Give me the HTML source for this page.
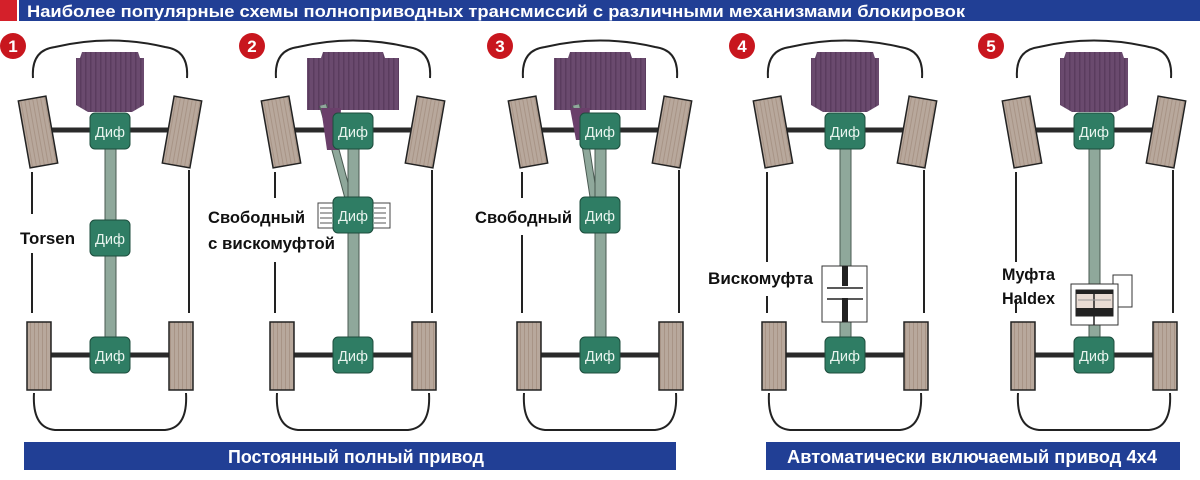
<!DOCTYPE html>
<html><head><meta charset="utf-8"><style>
html,body{margin:0;padding:0;background:#fff;width:1200px;height:480px;overflow:hidden}
svg{display:block}
text{font-family:"Liberation Sans Narrow","Liberation Sans",sans-serif;font-weight:bold}
</style></head><body>
<svg width="1200" height="480" viewBox="0 0 1200 480" xmlns="http://www.w3.org/2000/svg">
<defs>
<pattern id="wp" width="4" height="10" patternUnits="userSpaceOnUse"><rect width="4" height="10" fill="#b8a89c"/><rect width="1" height="10" fill="#a89486"/></pattern>
<pattern id="ep" width="5" height="10" patternUnits="userSpaceOnUse"><rect width="5" height="10" fill="#6a4a6e"/><rect width="1.5" height="10" fill="#5a3c5e"/></pattern>
<g id="body">
<path d="M-77,78 Q-79,50 -55,47 Q0,34 55,47 Q79,50 77,78" fill="none" stroke="#222" stroke-width="2"/>
<line x1="79" y1="170" x2="79" y2="313" stroke="#222" stroke-width="2"/>
<path d="M-76,393 Q-78,428 -55,430 L55,430 Q78,428 76,393" fill="none" stroke="#222" stroke-width="2"/>
<line x1="-62" y1="130" x2="62" y2="130" stroke="#2a2a2a" stroke-width="5"/>
<line x1="-62" y1="355" x2="62" y2="355" stroke="#2a2a2a" stroke-width="5"/>
<rect x="-14" y="-34" width="28" height="68" fill="url(#wp)" stroke="#222" stroke-width="1.5" transform="translate(-72,132) rotate(-10)"/>
<rect x="-14" y="-34" width="28" height="68" fill="url(#wp)" stroke="#222" stroke-width="1.5" transform="translate(72,132) rotate(10)"/>
<rect x="-83" y="322" width="24" height="68" fill="url(#wp)" stroke="#222" stroke-width="1.5"/>
<rect x="59" y="322" width="24" height="68" fill="url(#wp)" stroke="#222" stroke-width="1.5"/>
</g>
<g id="diff"><rect x="-20" y="-18" width="40" height="36" rx="5" fill="#2f7d64" stroke="#1d4d3d" stroke-width="1"/><text x="0" y="6" font-size="15" fill="#e8f4ee" text-anchor="middle" textLength="30" lengthAdjust="spacingAndGlyphs" style="font-weight:normal">Диф</text></g>
<g id="eng"><path d="M-28,52 L28,52 L30,58 L34,58 L34,105 L22,112 L-22,112 L-34,105 L-34,58 L-30,58 Z" fill="url(#ep)"/></g>
<g id="engW"><path d="M-30,52 L30,52 L32,58 L46,58 L46,110 L-46,110 L-46,58 L-32,58 Z" fill="url(#ep)"/></g>
</defs>

<rect x="0" y="0" width="17" height="21" fill="#d4202a"/>
<rect x="19" y="0" width="1181" height="21" fill="#213f95"/>
<text x="27" y="17" font-size="17" fill="#fff" textLength="938" lengthAdjust="spacingAndGlyphs">Наиболее популярные схемы полноприводных трансмиссий с различными механизмами блокировок</text>

<g font-size="17" fill="#fff" text-anchor="middle">
<circle cx="13" cy="46" r="13" fill="#c8161e"/><text x="13" y="52">1</text>
<circle cx="252" cy="46" r="13" fill="#c8161e"/><text x="252" y="52">2</text>
<circle cx="500" cy="46" r="13" fill="#c8161e"/><text x="500" y="52">3</text>
<circle cx="742" cy="46" r="13" fill="#c8161e"/><text x="742" y="52">4</text>
<circle cx="991" cy="46" r="13" fill="#c8161e"/><text x="991" y="52">5</text>
</g>

<g transform="translate(110,0)">
<use href="#body"/>
<line x1="-78" y1="172" x2="-78" y2="214" stroke="#222" stroke-width="2"/>
<line x1="-78" y1="253" x2="-78" y2="313" stroke="#222" stroke-width="2"/>
<use href="#eng"/>
<rect x="-5" y="148" width="11" height="190" fill="#8fa89b" stroke="#4a5a52"/>
<use href="#diff" transform="translate(0,131)"/>
<use href="#diff" transform="translate(0,238)"/>
<use href="#diff" transform="translate(0,355)"/>
</g>
<text x="20" y="244" font-size="17" fill="#111" textLength="55" lengthAdjust="spacingAndGlyphs">Torsen</text>

<g transform="translate(353,0)">
<use href="#body"/>
<line x1="-78" y1="172" x2="-78" y2="198" stroke="#222" stroke-width="2"/>
<line x1="-78" y1="262" x2="-78" y2="313" stroke="#222" stroke-width="2"/>
<use href="#engW"/>
<path d="M-30,105 L-18,148 L-4,200" fill="none" stroke="#4a5a52" stroke-width="8"/>
<path d="M-30,105 L-18,148 L-4,200" fill="none" stroke="#8fa89b" stroke-width="6"/>
<path d="M-32,108 L-12,108 L-14,150 L-26,150 Z" fill="#6a3f6a"/>
<rect x="-5" y="148" width="11" height="190" fill="#8fa89b" stroke="#4a5a52"/>
<use href="#diff" transform="translate(0,131)"/>
<rect x="-35" y="203" width="18" height="25" fill="#fff" stroke="#444"/>
<rect x="19" y="203" width="18" height="25" fill="#fff" stroke="#444"/>
<path d="M-33,208 h12 M-33,213 h12 M-33,218 h12 M-33,223 h12 M21,208 h12 M21,213 h12 M21,218 h12 M21,223 h12" stroke="#555" stroke-width="1"/>
<use href="#diff" transform="translate(0,215)"/>
<use href="#diff" transform="translate(0,355)"/>
</g>
<text x="208" y="223" font-size="17" fill="#111" textLength="97" lengthAdjust="spacingAndGlyphs">Свободный</text>
<text x="208" y="249" font-size="17" fill="#111" textLength="127" lengthAdjust="spacingAndGlyphs">с вискомуфтой</text>

<g transform="translate(600,0)">
<use href="#body"/>
<line x1="-78" y1="172" x2="-78" y2="198" stroke="#222" stroke-width="2"/>
<line x1="-78" y1="235" x2="-78" y2="313" stroke="#222" stroke-width="2"/>
<use href="#engW"/>
<path d="M-24,105 L-14,148 L-6,200" fill="none" stroke="#4a5a52" stroke-width="8"/>
<path d="M-24,105 L-14,148 L-6,200" fill="none" stroke="#8fa89b" stroke-width="6"/>
<path d="M-30,108 L-10,108 L-12,140 L-24,140 Z" fill="#6a3f6a"/>
<rect x="-5" y="148" width="11" height="190" fill="#8fa89b" stroke="#4a5a52"/>
<use href="#diff" transform="translate(0,131)"/>
<use href="#diff" transform="translate(0,215)"/>
<use href="#diff" transform="translate(0,355)"/>
</g>
<text x="475" y="223" font-size="17" fill="#111" textLength="97" lengthAdjust="spacingAndGlyphs">Свободный</text>

<g transform="translate(845,0)">
<use href="#body"/>
<line x1="-78" y1="172" x2="-78" y2="262" stroke="#222" stroke-width="2"/>
<line x1="-78" y1="296" x2="-78" y2="313" stroke="#222" stroke-width="2"/>
<use href="#eng"/>
<rect x="-5" y="148" width="11" height="190" fill="#8fa89b" stroke="#4a5a52"/>
<rect x="-23" y="266" width="45" height="56" fill="#fff" stroke="#333"/>
<rect x="-3" y="266" width="6" height="56" fill="#222"/>
<rect x="-18" y="286" width="36" height="12" fill="#fff"/>
<line x1="-18" y1="288" x2="18" y2="288" stroke="#222" stroke-width="1.5"/>
<line x1="-18" y1="299" x2="18" y2="299" stroke="#222" stroke-width="1.5"/>
<use href="#diff" transform="translate(0,131)"/>
<use href="#diff" transform="translate(0,355)"/>
</g>
<text x="708" y="284" font-size="17" fill="#111" textLength="105" lengthAdjust="spacingAndGlyphs">Вискомуфта</text>

<g transform="translate(1094,0)">
<use href="#body"/>
<line x1="-78" y1="172" x2="-78" y2="262" stroke="#222" stroke-width="2"/>
<line x1="-78" y1="300" x2="-78" y2="313" stroke="#222" stroke-width="2"/>
<use href="#eng"/>
<rect x="-5" y="148" width="11" height="190" fill="#8fa89b" stroke="#4a5a52"/>
<rect x="19" y="275" width="19" height="32" fill="#fff" stroke="#333"/>
<rect x="-23" y="284" width="47" height="41" fill="#fff" stroke="#333"/>
<rect x="-18" y="290" width="37" height="26" fill="#e9dcd4" stroke="#222"/>
<rect x="-18" y="308" width="37" height="8" fill="#222"/>
<rect x="-18" y="290" width="37" height="4" fill="#222"/>
<line x1="0" y1="294" x2="0" y2="325" stroke="#222" stroke-width="1.5"/>
<line x1="-16" y1="300" x2="17" y2="300" stroke="#999" stroke-width="1"/>
<use href="#diff" transform="translate(0,131)"/>
<use href="#diff" transform="translate(0,355)"/>
</g>
<text x="1002" y="280" font-size="17" fill="#111" textLength="53" lengthAdjust="spacingAndGlyphs">Муфта</text>
<text x="1002" y="304" font-size="17" fill="#111" textLength="53" lengthAdjust="spacingAndGlyphs">Haldex</text>

<rect x="24" y="442" width="652" height="28" fill="#213f95"/>
<text x="228" y="463" font-size="18" fill="#fff" textLength="256" lengthAdjust="spacingAndGlyphs">Постоянный полный привод</text>
<rect x="766" y="442" width="414" height="28" fill="#213f95"/>
<text x="787" y="463" font-size="18" fill="#fff" textLength="370" lengthAdjust="spacingAndGlyphs">Автоматически включаемый привод 4x4</text>
</svg>
</body></html>
